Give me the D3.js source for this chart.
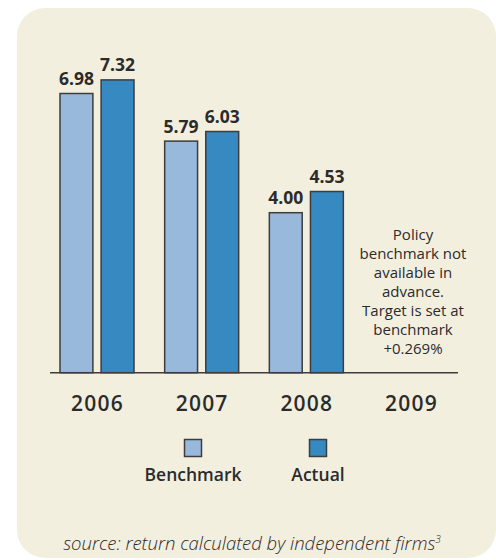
<!DOCTYPE html>
<html>
<head>
<meta charset="utf-8">
<script src="https://cdn.jsdelivr.net/npm/d3@7"></script>
<style>
  html, body { margin: 0; padding: 0; background: #ffffff; }
  svg { display: block; }
  text { font-family: "Open Sans", Lato, sans-serif; fill: #2b2b2b; }
</style>
</head>
<body>
<svg id="chart" width="496" height="560"></svg>
<script>
// Annual return (%) by year
const years = ["2006", "2007", "2008", "2009"];
const seriesNames = ["Benchmark", "Actual"];
const benchmark = [6.98, 5.79, 4.00, null];
const actual = [7.32, 6.03, 4.53, null];
const seriesColors = ["#98b8dc", "#3689c1"];
const noteLines = ["Policy", "benchmark not", "available in", "advance.", "Target is set at", "benchmark", "+0.269%"];
const sourceText = "source: return calculated by independent firms";

const svg = d3.select("#chart");

// Rounded cream panel behind everything
svg.append("rect")
  .attr("x", 17).attr("y", 8)
  .attr("width", 479).attr("height", 550)
  .attr("rx", 28).attr("ry", 28)
  .attr("fill", "#f3efdf");

const baseline = 372.7;
const y = d3.scaleLinear().domain([0, 8]).range([baseline, baseline - 320]);
const x0 = d3.scalePoint().domain(years).range([97, 411]);
const x1 = d3.scaleBand().domain(seriesNames).range([-37, 37]).paddingInner(0.2).paddingOuter(0);

const rows = years.map((yr, i) => ({
  year: yr,
  values: [
    { series: "Benchmark", value: benchmark[i], color: seriesColors[0] },
    { series: "Actual", value: actual[i], color: seriesColors[1] }
  ].filter(d => d.value !== null)
}));

const groups = svg.selectAll("g.year")
  .data(rows)
  .join("g")
  .attr("class", "year")
  .attr("transform", d => `translate(${x0(d.year)},0)`);

groups.selectAll("rect")
  .data(d => d.values)
  .join("rect")
  .attr("x", d => x1(d.series))
  .attr("y", d => y(d.value))
  .attr("width", x1.bandwidth())
  .attr("height", d => y(0) - y(d.value))
  .attr("fill", d => d.color)
  .attr("stroke", "#3d3d3d")
  .attr("stroke-width", 1.5);

groups.selectAll("text.val")
  .data(d => d.values)
  .join("text")
  .attr("class", "val")
  .attr("x", d => x1(d.series) + x1.bandwidth() / 2)
  .attr("y", d => y(d.value) - 8.5)
  .attr("text-anchor", "middle")
  .attr("font-size", 17.5)
  .attr("font-weight", 700)
  .text(d => d.value.toFixed(2));

// Baseline axis
svg.append("line")
  .attr("x1", 50).attr("x2", 458)
  .attr("y1", y(0)).attr("y2", y(0))
  .attr("stroke", "#3d3d3d")
  .attr("stroke-width", 1.5);

// Year labels
const xAxis = svg.append("g")
  .attr("transform", `translate(0,${y(0)})`)
  .call(d3.axisBottom(x0).tickSize(0).tickPadding(0));
xAxis.select(".domain").remove();
xAxis.selectAll("text")
  .attr("dy", null)
  .attr("y", 38.5)
  .attr("font-family", "'Open Sans', sans-serif")
  .attr("font-size", 21)
  .attr("font-weight", 600)
  .attr("letter-spacing", 1.2)
  .attr("fill", "#2b2b2b");

// Note for 2009
const note = svg.append("text")
  .attr("text-anchor", "middle")
  .attr("font-size", 15)
  .attr("fill", "#333");
noteLines.forEach((line, i) => {
  note.append("tspan")
    .attr("x", x0("2009") + 2)
    .attr("y", 240 + i * 19)
    .text(line);
});

// Legend
const legendX = d3.scalePoint().domain(seriesNames).range([193, 318]);
const legend = svg.selectAll("g.legend")
  .data(seriesNames)
  .join("g")
  .attr("class", "legend")
  .attr("transform", d => `translate(${legendX(d)},0)`);
legend.append("rect")
  .attr("x", -8.5).attr("y", 439.5)
  .attr("width", 17).attr("height", 17)
  .attr("fill", (d, i) => seriesColors[i])
  .attr("stroke", "#3d3d3d")
  .attr("stroke-width", 1.5);
legend.append("text")
  .attr("y", 481)
  .attr("text-anchor", "middle")
  .attr("font-size", 17.5)
  .attr("font-weight", 600)
  .text(d => d);

// Source note
const src = svg.append("text")
  .attr("x", 252).attr("y", 550)
  .attr("text-anchor", "middle")
  .attr("font-size", 18.5)
  .attr("font-style", "italic")
  .attr("font-weight", 300)
  .attr("fill", "#333");
src.append("tspan").text(sourceText);
src.append("tspan").attr("dy", -7).attr("font-size", 10).text("3");
</script>
</body>
</html>
